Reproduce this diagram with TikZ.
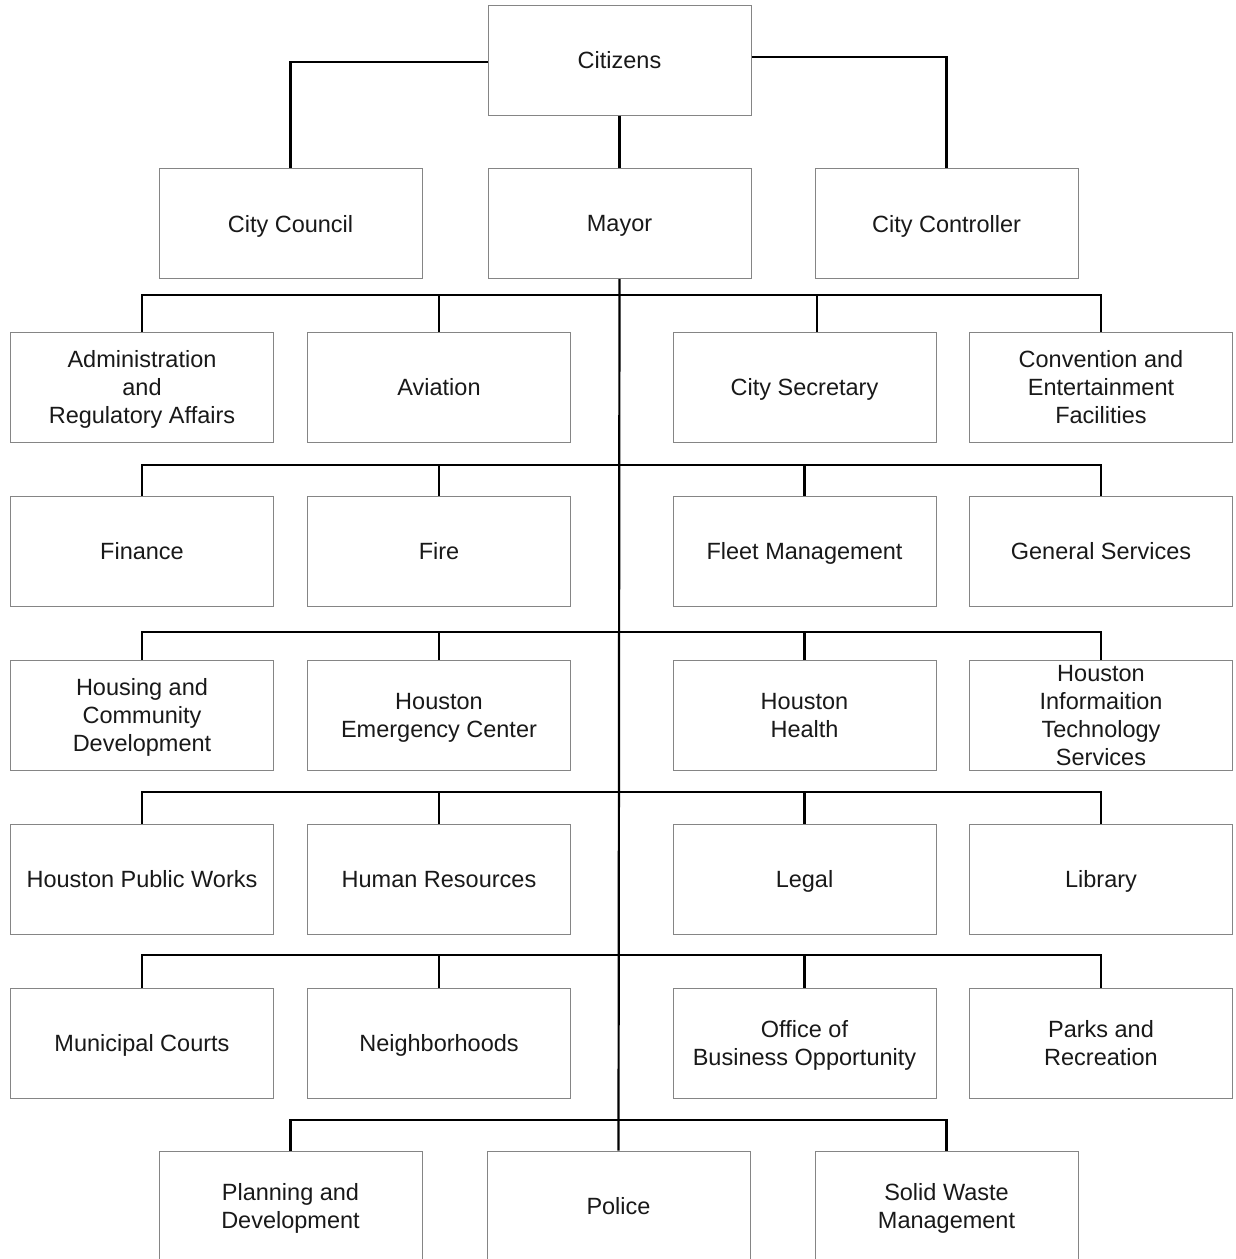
\documentclass[tikz,border=0pt]{standalone}
\usepackage{fontspec}
\setmainfont{Liberation Sans}
\usetikzlibrary{calc}
\tikzset{
  box/.style={draw=black!48, line width=1pt, fill=white, minimum width=263pt, minimum height=110pt,
    inner sep=0pt, align=center, text=black!90, text depth=0pt, font=\fontsize{23.5}{28}\selectfont},
  conn/.style={draw=black, line width=2.2pt}
}
\begin{document}
\begin{tikzpicture}[x=1pt,y=-1pt]
\clip (0,0) rectangle (1235,1259);
\fill[white] (0,0) rectangle (1235,1259);
% top
\node[box] (citizens) at (619.5,60) {Citizens};
\node[box] (council) at (290.5,223.5) {City Council};
\node[box] (mayor) at (619.5,223.5) {Mayor};
\node[box] (controller) at (946.5,223.5) {City Controller};
% row 1
\node[box] (a1) at (142,387) {Administration\\and\\Regulatory Affairs};
\node[box] (b1) at (439,387) {Aviation};
\node[box] (c1) at (804.5,387) {City Secretary};
\node[box] (d1) at (1101,387) {Convention and\\Entertainment\\Facilities};
% row 2
\node[box] (a2) at (142,551) {Finance};
\node[box] (b2) at (439,551) {Fire};
\node[box] (c2) at (804.5,551) {Fleet Management};
\node[box] (d2) at (1101,551) {General Services};
% row 3
\node[box] (a3) at (142,715) {Housing and\\Community\\Development};
\node[box] (b3) at (439,715) {Houston\\Emergency Center};
\node[box] (c3) at (804.5,715) {Houston\\Health};
\node[box] (d3) at (1101,715) {Houston\\Informaition\\Technology\\Services};
% row 4
\node[box] (a4) at (142,879) {Houston Public Works};
\node[box] (b4) at (439,879) {Human Resources};
\node[box] (c4) at (804.5,879) {Legal};
\node[box] (d4) at (1101,879) {Library};
% row 5
\node[box] (a5) at (142,1043) {Municipal Courts};
\node[box] (b5) at (439,1043) {Neighborhoods};
\node[box] (c5) at (804.5,1043) {Office of\\Business Opportunity};
\node[box] (d5) at (1101,1043) {Parks and\\Recreation};
% row 6
\node[box] (a6) at (290.5,1206) {Planning and\\Development};
\node[box] (b6) at (618.5,1206) {Police};
\node[box] (c6) at (946.5,1206) {Solid Waste\\Management};
% bus junctions on trunk
\coordinate (j1) at (619,295);
\coordinate (j2) at (619,465);
\coordinate (j3) at (619,632);
\coordinate (j4) at (619,792);
\coordinate (j5) at (619,955);
\coordinate (j6) at (619,1120);
% connectors top
\draw[conn] ($(citizens.west)+(0,2)$) -| (council.north);
\draw[conn] ($(citizens.east)+(0,-3)$) -| (controller.north);
\draw[conn] (citizens.south) -- (mayor.north);
% trunk
\draw[conn] (mayor.south) -- (b6.north);
% row buses
\draw[conn] (a1.north) |- (j1) -| (d1.north);
\draw[conn] (b1.north) -- (b1.north |- j1);
\draw[conn] ($(c1.north)+(12.5,0)$) -- ($(c1.north |- j1)+(12.5,0)$);
\foreach \r in {2,3,4,5}{
  \draw[conn] (a\r.north) |- (j\r) -| (d\r.north);
  \draw[conn] (b\r.north) -- (b\r.north |- j\r);
  \draw[conn] (c\r.north) -- (c\r.north |- j\r);
}
\draw[conn] (a6.north) |- (j6) -| (c6.north);
\end{tikzpicture}
\end{document}
